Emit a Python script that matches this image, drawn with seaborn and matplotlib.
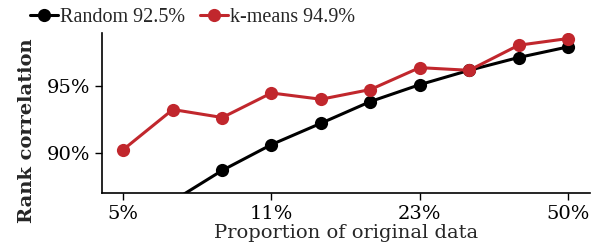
import pandas as pd
import seaborn as sns
from matplotlib import pyplot as plt
from matplotlib.ticker import NullLocator

# proportion of original data (log spaced, 10 steps)
PROPORTIONS = [0.05, 0.0646, 0.0835, 0.1077, 0.1392, 0.1799, 0.2321, 0.3000, 0.3875, 0.50]
RANDOM_CORR = [0.8500, 0.8640, 0.8870, 0.9063, 0.9223, 0.9386, 0.9512, 0.9620, 0.9716, 0.9795]
KMEANS_CORR = [0.9026, 0.9326, 0.9266, 0.9450, 0.9403, 0.9476, 0.9640, 0.9620, 0.9808, 0.9858]
SERIES_LABELS = ['Random 92.5%', 'k-means 94.9%']
TICK_VALUES = [0.05, 0.1077, 0.2321, 0.50]
TICK_LABELS = ['5%', '11%', '23%', '50%']

df = pd.concat([
    pd.DataFrame({'Proportion': PROPORTIONS, 'Corr': RANDOM_CORR, 'Method': SERIES_LABELS[0]}),
    pd.DataFrame({'Proportion': PROPORTIONS, 'Corr': KMEANS_CORR, 'Method': SERIES_LABELS[1]}),
])

sns.set_style('ticks')
plt.rcParams['font.family'] = ['DejaVu Serif']

fig = plt.figure(figsize=(6.02, 2.46), dpi=100)
ax = fig.add_axes([0.169, 0.2154, 0.811, 0.6506])

sns.lineplot(data=df, x='Proportion', y='Corr', hue='Method',
             palette={SERIES_LABELS[0]: 'black', SERIES_LABELS[1]: '#c1272d'},
             marker='o', markersize=9.5, markeredgewidth=0, linewidth=2.2, ax=ax)

ax.set_xscale('log')
ax.set_xlim(0.0447, 0.561)
ax.set_ylim(0.87, 0.99)
ax.set_xticks(TICK_VALUES)
ax.set_xticklabels(TICK_LABELS)
ax.xaxis.set_minor_locator(NullLocator())
ax.set_yticks([0.90, 0.95])
ax.set_yticklabels(['90%', '95%'])
ax.tick_params(axis='both', labelsize=14, length=5, width=1, direction='out', colors='black')
for s in ['left', 'bottom']:
    ax.spines[s].set_color('black')
    ax.spines[s].set_linewidth(1.2)
sns.despine(ax=ax)

ax.set_xlabel('Proportion of original data', fontsize=14, labelpad=1)
ax.set_ylabel('Rank correlation', fontsize=14, fontweight='bold')
ax.yaxis.set_label_coords(-0.135, 0.39)

ax.legend(loc='lower left', bbox_to_anchor=(-0.163, 0.985), ncol=2, frameon=False,
          handlelength=1.4, handletextpad=0.1, columnspacing=0.7, borderaxespad=0,
          prop={'family': 'Liberation Serif', 'size': 14.5})

fig.savefig('out.png', dpi=100)
